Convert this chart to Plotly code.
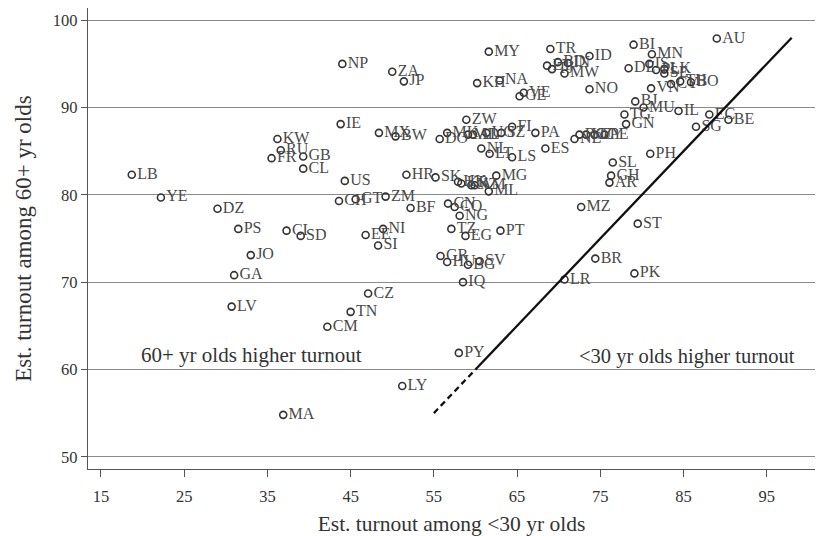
import plotly.graph_objects as go

codes = ["AU","BI","MN","TR","MY","ID","NP","ZA","JP","ET","TJ","BD","IN","MW",
         "IS","DE","PL","LK","SE","CY","TH","BO","KH","NA","NO","VE","GE","VN",
         "BJ","MU","IL","EC","BE","SG","TG","GN","ZW","IE","FI","PA","MX","BW",
         "DO","MK","MD","AL","UG","SZ","NE","RO","KZ","UY","PE","KW","RU","FR",
         "GB","CL","ES","NL","LT","LS","PH","SL","GH","AR","LB","US","HR","SK",
         "HK","KR","NZ","AM","MG","ML","YE","CH","GT","ZM","BF","CN","CO","DZ",
         "MZ","NG","ST","PS","CI","SD","NI","EE","SI","TZ","EG","PT","JO","GR",
         "HU","BG","SV","BR","PK","GA","IQ","LR","CZ","LV","TN","CM","PY","LY","MA"]
young = [89.0,79.0,81.2,69.0,61.6,73.7,44.0,50.0,51.4,68.6,69.2,69.9,71.1,70.7,
         80.9,78.4,81.7,82.7,82.7,83.5,84.6,85.9,60.2,62.9,73.7,65.8,65.3,81.1,
         79.2,80.2,84.4,88.1,90.4,86.5,77.9,78.1,58.9,43.8,64.4,67.2,48.4,50.4,
         55.7,56.6,59.1,59.7,61.3,63.1,71.9,72.5,73.3,74.3,75.5,36.2,36.6,35.5,
         39.3,39.3,68.4,60.7,61.7,64.4,81.0,76.5,76.3,76.1,18.7,44.3,51.7,55.2,
         57.9,58.3,59.5,59.9,62.5,61.6,22.2,43.6,45.6,49.2,52.2,56.7,57.5,29.0,
         72.7,58.1,79.5,31.5,37.3,39.0,48.9,46.8,48.3,57.1,58.8,63.0,33.0,55.8,
         56.6,59.1,60.5,74.4,79.1,31.0,58.5,70.7,47.1,30.7,45.0,42.2,58.0,51.2,36.9]
old = [97.9,97.2,96.1,96.7,96.4,95.9,95.0,94.1,93.0,94.8,94.4,95.2,95.1,93.9,
       95.0,94.5,94.3,94.4,93.9,92.7,93.0,92.9,92.8,93.1,92.1,91.7,91.3,92.2,
       90.7,90.0,89.6,89.2,88.6,87.8,89.2,88.1,88.6,88.1,87.8,87.1,87.1,86.7,
       86.4,87.1,86.9,86.9,87.1,87.1,86.4,86.9,86.9,86.9,86.9,86.4,85.1,84.2,
       84.4,83.0,85.3,85.3,84.7,84.3,84.7,83.7,82.2,81.4,82.3,81.6,82.3,82.0,
       81.5,81.3,81.1,81.1,82.2,80.4,79.7,79.3,79.5,79.8,78.5,79.0,78.6,78.4,
       78.6,77.6,76.7,76.1,75.9,75.3,76.1,75.4,74.2,76.1,75.3,75.9,73.1,73.0,
       72.3,72.0,72.4,72.7,71.0,70.8,70.0,70.3,68.7,67.2,66.6,64.9,61.9,58.1,54.8]

fit_dash_x = [55, 60]
fit_solid_x = [60, 98]

x_ticks = [15, 25, 35, 45, 55, 65, 75, 85, 95]
y_ticks = [50, 60, 70, 80, 90, 100]

FONT = "Liberation Serif"

fig = go.Figure()
fig.add_trace(go.Scatter(
    x=young, y=old, mode="markers+text", text=codes,
    textposition="middle right",
    textfont=dict(family=FONT, size=16, color="#4a4a4a"),
    marker=dict(symbol="circle-open", size=7, color="#333333", line=dict(width=1.6)),
    hoverinfo="text", showlegend=False))
fig.add_trace(go.Scatter(x=fit_dash_x, y=fit_dash_x, mode="lines",
                         line=dict(color="#111111", width=2.3, dash="6px,4px"),
                         showlegend=False, hoverinfo="skip"))
fig.add_trace(go.Scatter(x=fit_solid_x, y=fit_solid_x, mode="lines",
                         line=dict(color="#111111", width=2.3),
                         showlegend=False, hoverinfo="skip"))

fig.add_annotation(x=33.1, y=61.7, text="60+ yr olds higher turnout", showarrow=False,
                   font=dict(family=FONT, size=21, color="#333333"))
fig.add_annotation(x=85.4, y=61.5, text="<30 yr olds higher turnout", showarrow=False,
                   font=dict(family=FONT, size=20.5, color="#333333"))

fig.update_layout(
    width=820, height=536, paper_bgcolor="white", plot_bgcolor="white",
    margin=dict(l=88, r=5, t=8, b=64),
    font=dict(family=FONT, color="#333333"),
    xaxis=dict(range=[13.44, 100.8], tickvals=x_ticks, ticks="outside", ticklen=7,
               tickcolor="#555555", showgrid=False, zeroline=False, showline=True,
               linecolor="#555555", linewidth=1.3, ticklabelstandoff=5,
               tickfont=dict(family=FONT, size=16.5, color="#333333"),
               title=dict(text="Est. turnout among <30 yr olds",
                          font=dict(family=FONT, size=21.5, color="#333333"), standoff=10)),
    yaxis=dict(range=[48.6, 101.4], tickvals=y_ticks, ticks="outside", ticklen=6,
               tickcolor="#555555", showgrid=True, gridcolor="#8a8a8a", gridwidth=1.4,
               zeroline=False, showline=True, linecolor="#555555", linewidth=1.3,
               tickfont=dict(family=FONT, size=16.5, color="#333333"),
               title=dict(text="Est. turnout among 60+ yr olds",
                          font=dict(family=FONT, size=23, color="#333333"), standoff=14)),
)

fig.write_html("out.html", config={"displayModeBar": False},
               post_script="document.body.style.margin='0';document.body.style.padding='0';document.body.style.overflow='hidden';")
